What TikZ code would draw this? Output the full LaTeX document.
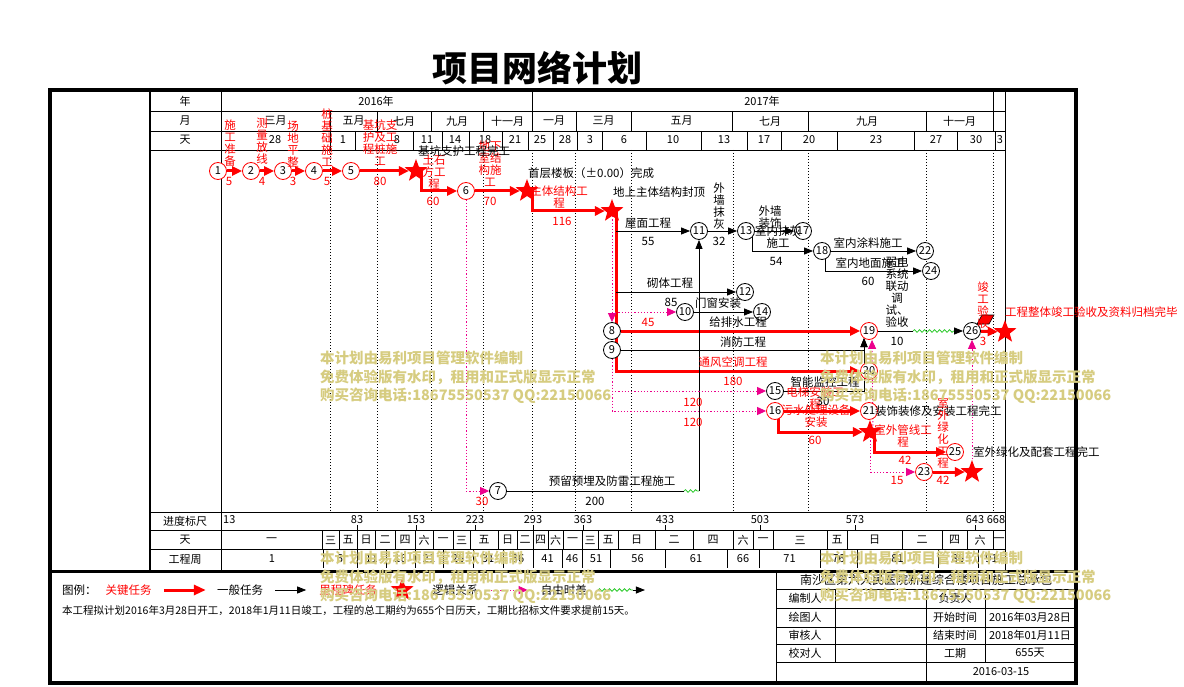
\documentclass[tikz,border=0pt]{standalone}
\usepackage{fontspec}
\setmainfont{Noto Sans CJK SC}
\usepackage{xcolor}
\usepackage{tikz}
\usetikzlibrary{positioning,calc,shapes.geometric,arrows.meta,decorations.pathmorphing,backgrounds}

\definecolor{wmcolor}{RGB}{214,204,128}
\definecolor{slackgreen}{RGB}{40,200,40}
\newcommand{\sz}[1]{\fontsize{#1}{#1}\selectfont}

\tikzset{
  evt/.style={circle, draw=black, fill=white, line width=0.8pt, minimum size=17pt, inner sep=0pt, font=\sz{11}},
  cevt/.style={evt, draw=red},
  mile/.style={star, star points=5, star point ratio=2.4, fill=red, minimum size=24pt, inner sep=0pt},
  keytask/.style={draw=red, line width=3pt, -{Triangle[length=10pt,width=9pt]}},
  task/.style={draw=black, line width=0.8pt, -{Triangle[length=9pt,width=7pt]}},
  logic/.style={draw=magenta, line width=0.9pt, dash pattern=on 1.2pt off 2pt, -{Triangle[length=9pt,width=8pt]}},
  slack/.style={draw=slackgreen, line width=0.8pt, decorate, decoration={snake, amplitude=1.3pt, segment length=5pt}},
  lbl/.style={inner sep=0pt, font=\sz{11.5}},
  rlbl/.style={lbl, text=red},
  vlbl/.style={inner sep=0pt, anchor=north, align=center, font=\fontsize{11.5}{12}\selectfont},
  rvlbl/.style={vlbl, text=red},
  cell/.style={inner sep=0pt, font=\sz{11}},
  gline/.style={line width=0.8pt},
  dotline/.style={line width=0.8pt, dash pattern=on 1pt off 2pt},
  wmark/.style={inner sep=0pt, anchor=north west, align=left, text=wmcolor, font=\fontsize{14.5}{18.5}\selectfont\bfseries},
}

\begin{document}
\begin{tikzpicture}[x=1pt,y=-1pt]
\useasboundingbox (0,0) rectangle (1184,687);

\node(title) [font=\sz{35}\bfseries] at (537,68) {项目网络计划};

% grid and frame
\begin{scope}[on background layer]
\draw[line width=3.5pt] (50,90) rectangle (1076,683);
\draw[line width=3pt] (50,571) -- (1076,571);
\draw[line width=2.5pt] (150,90) -- (150,571);
\foreach \y in {111,131,150,512,530,549}
  \draw[gline] (150,\y) -- (1005,\y);
\draw[gline] (221,90) -- (221,571);
\draw[gline] (1005,90) -- (1005,571);
\foreach \x in {532,993}
  \draw[gline] (\x,90) -- (\x,111);
\foreach \x in {330,377,431,483,532,576,631,732,808,926,993}
  \draw[gline] (\x,111) -- (\x,131);
\foreach \x in {330,355,413,442,469,502,528,553,577,602,646,701,747,781,837,914,957,995}
  \draw[gline] (\x,131) -- (\x,150);
\foreach \x in {330,377,431,483,532,575,631,733,808,926,993}
  \draw[dotline] (\x,150) -- (\x,512);
% title block
\draw[gline] (776,571) -- (776,683);
\foreach \y in {589,608,627,644,662}
  \draw[gline] (776,\y) -- (1076,\y);
\draw[gline] (926,589) -- (926,683);
\foreach \x in {835,985}
  \draw[gline] (\x,589) -- (\x,662);
\end{scope}

% header cells
\node(hy) [cell] at (185,101) {年};
\node(hm) [cell] at (185,121) {月};
\node(hd) [cell] at (185,140) {天};
\node(y16) [cell] at (376,101) {2016年};
\node(y17) [cell] at (762,101) {2017年};
\foreach \a/\b/\t [count=\i] in {221/330/三月,330/377/五月,377/431/七月,431/483/九月,483/532/十一月,532/576/一月,576/631/三月,631/732/五月,732/808/七月,808/926/九月,926/993/十一月}
  \node(mon\i) [cell] at ({(\a+\b)/2},121) {\t};
\foreach \x/\t [count=\i] in {275/28,343/1,397/8,427/11,455/14,485/18,515/21,540/25,565/28,590/3,624/6,673/10,724/13,764/17,809/20,876/23,936/27,976/30,1000/3}
  \node(day\i) [cell] at (\x,140) {\t};

% bottom rows
\node(hs) [cell] at (185,521) {进度标尺};
\node(hw) [cell] at (185,540) {天};
\node(hp) [cell] at (185,559) {工程周};
\node(sc0) [cell, anchor=west] at (223,520) {13};
\foreach \x/\t [count=\i] in {357/83,416/153,475/223,533/293,583/363,665/433,760/503,855/573,975/643} {
  \node(sc\i) [cell] at (\x,520) {\t};
  \draw[gline] (\x,525) -- (\x,530);
}
\node(sc10) [cell] at (996,520) {668};
\foreach \a/\b/\t [count=\i] in {221/322/一,322/339/三,339/357/五,357/375/日,375/395/二,395/415/四,415/433/六,433/453/一,453/470/三,470/498/五,498/517/日,517/533/二,533/548/四,548/563/六,563/582/一,582/598/三,598/618/五,618/655/日,655/693/二,693/733/四,733/753/六,753/773/一,773/827/三,827/847/五,847/902/日,902/942/二,942/967/四,967/993/六,993/1005/一} {
  \draw[gline] (\b,530) -- (\b,549);
  \node(wd\i) [cell] at ({(\a+\b)/2},540) {\t};
}
\foreach \a/\b/\t [count=\i] in {221/323/1,323/357/6,357/386/11,386/415/16,415/443/21,443/473/26,473/503/31,503/533/36,533/562/41,562/582/46,582/610/51,610/665/56,665/727/61,727/759/66,759/820/71,820/857/76,857/938/81,938/978/86,978/1005/91} {
  \draw[gline] (\b,549) -- (\b,568);
  \node(pw\i) [cell] at ({(\a+\b)/2},559) {\t};
}

% events and milestones
\node(n1)  [cevt] at (218,171) {1};
\node(n2)  [cevt] at (251,171) {2};
\node(n3)  [cevt] at (283,171) {3};
\node(n4)  [cevt] at (314,171) {4};
\node(n5)  [cevt] at (351,171) {5};
\node(m1)  [mile] at (416,171) {};
\node(n6)  [cevt] at (466,191) {6};
\node(m2)  [mile] at (527,191) {};
\node(m3)  [mile] at (612,211) {};
\node(n7)  [evt]  at (498,491) {7};
\node(n8)  [evt]  at (612,331) {8};
\node(n9)  [evt]  at (612,350) {9};
\node(n10) [evt]  at (685,312) {10};
\node(n11) [evt]  at (699,231) {11};
\node(n12) [evt]  at (745,292) {12};
\node(n13) [evt]  at (746,231) {13};
\node(n14) [evt]  at (762,312) {14};
\node(n15) [evt]  at (775,391) {15};
\node(n16) [cevt] at (775,411) {16};
\node(n17) [evt]  at (803,231) {17};
\node(n18) [evt]  at (822,251) {18};
\node(n19) [cevt] at (869,331) {19};
\node(n20) [cevt] at (869,371) {20};
\node(n21) [cevt] at (869,411) {21};
\node(n22) [evt]  at (925,251) {22};
\node(n23) [cevt] at (924,472) {23};
\node(n24) [evt]  at (931,271) {24};
\node(n25) [cevt] at (955,452) {25};
\node(n26) [evt]  at (972,331) {26};
\node(m4)  [mile] at (870,432) {};
\node(m5)  [mile] at (972,472) {};
\node(m6)  [mile] at (1005,332) {};

\coordinate(s1)  at (616,231);
\coordinate(s2)  at (616,292);
\coordinate(d1)  at (612,312);
\coordinate(j19) at (864,338);
\coordinate(fl1) at (913,331);
\coordinate(fl2) at (955,331);
\coordinate(fl3) at (684,491);
\coordinate(fl4) at (699,491);

\begin{scope}[on background layer]
% critical path
\foreach \x [evaluate=\x as \y using int(\x+1)] in {1,2,3,4}
  \draw[keytask] (n\x) -- (n\y);
\draw[keytask] (n5) -- (m1);
\draw[keytask] ($(m1)+(5,0)$) |- (n6);
\draw[keytask] (n6) -- (m2);
\draw[keytask] ($(m2)+(5,0)$) |- (m3);
\draw[keytask] ($(m3)+(4,0)$) |- (n20);
\draw[keytask] (n8) -- (n19);
\draw[keytask] (n16) -- (n21);
\draw[keytask] ($(n16)+(3,0)$) |- (m4);
\draw[keytask] ($(m4)+(4,0)$) |- (n25);
\draw[keytask] (n23) -- (m5);
\draw[keytask] (n26) -- (m6);
% ordinary tasks
\draw[task] (s1) -- (n11);
\draw[task] (n11) -- (n13);
\draw[task] (n13) -- (n17);
\draw[task] ($(n13)+(6,0)$) |- (n18);
\draw[task] (n18) -- (n22);
\draw[task] ($(n18)+(3,0)$) |- (n24);
\draw[task] (s2) -- (n12);
\draw[task] (n10) -- (n14);
\draw[task] (n9) -| (j19);
\draw[task] (n15) -| (j19);
\draw[gline] (n19) -- (fl1);
\draw[slack] (fl1) -- (fl2);
\draw[task] (fl2) -- (n26);
\draw[gline] (n7) -- (fl3);
\draw[slack] (fl3) -- (fl4);
\draw[task] (fl4) -- (n11);
% logic links
\draw[logic] (n6) |- (n7);
\draw[logic] (m3) -- (n8);
\draw[logic] (d1) -- (n10);
\draw[logic] (n9) |- (n15);
\draw[logic] (n9) |- (n16);
\draw[logic] ($(m4)+(3,0)$) -- ($(n19.south)+(3,0)$);
\draw[logic] (m4) |- (n23);
\draw[logic] (m5) -- (n26);
\end{scope}
\filldraw[fill=red, draw=black, line width=0.6pt] (977,324) -- (982,315) -- (994,315) -- (989,324) -- cycle;

% task labels
\node(t12) [rvlbl] at (230,120) {施\\工\\准\\备};
\node(t23) [rvlbl] at (262,118) {测\\量\\放\\线};
\node(t34) [rvlbl] at (293,121) {场\\地\\平\\整};
\node(t45) [rvlbl] at (327,109) {桩\\基\\础\\施\\工};
\node(t5m) [rvlbl] at (380,120) {基坑支\\护及工\\程桩施\\工};
\node(tm6) [rvlbl] at (434,155) {土石\\方工\\程};
\node(t6m) [rvlbl] at (490,141) {地下\\室结\\构施\\工};
\node(tmm) [rvlbl] at (559,186) {主体结构工\\程};
\foreach \x/\y/\t [count=\i] in {229/181/5,262/181/4,293/181/3,327/181/5,380/181/80,433/201/60,490/201/70,562/221/116,648/322/45,733/381/180,693/402/120,693/422/120,815/440/60,905/460/42,897/480/15,943/480/42,983/341/3,482/501/30}
  \node(rd\i) [rlbl] at (\x,\y) {\t};
\node(ms1) [lbl, anchor=west] at (418,151) {基坑支护工程完工};
\node(ms2) [lbl, anchor=west] at (528,173) {首层楼板（±0.00）完成};
\node(ms3) [lbl, anchor=west] at (613,192) {地上主体结构封顶};
\node(ms4) [lbl, anchor=west] at (875,411) {装饰装修及安装工程完工};
\node(ms5) [lbl, anchor=west] at (973,452) {室外绿化及配套工程完工};
\node(ms6) [rlbl, anchor=west] at (1005,312) {工程整体竣工验收及资料归档完毕};
\node(t1113) [vlbl] at (719,183) {外\\墙\\抹\\灰};
\node(t1317) [vlbl] at (770,206) {外墙\\装饰};
\node(t1318) [vlbl] at (778,226) {室内抹灰\\施工};
\node(t1926) [vlbl] at (897,257) {弱电\\系统\\联动\\调\\试、\\验收};
\node(t1621) [rvlbl] at (815,387) {电梯安装工\\程};
\node(t16m) [rvlbl] at (816,405) {污水处理设备\\安装};
\node(tm25) [rvlbl] at (903,425) {室外管线工\\程};
\node(t23m) [rvlbl] at (943,398) {室\\外\\绿\\化\\工\\程};
\node(t26m) [rvlbl] at (983,282) {竣\\工\\验\\收};
\node(t711) [rlbl] at (733,362) {通风空调工程};
\foreach \x/\y/\t [count=\i] in {648/223/屋面工程,648/241/55,719/241/32,776/261/54,868/243/室内涂料施工,870/263/室内地面施工,868/281/60,897/341/10,670/283/砌体工程,671/302/85,718/303/门窗安装,738/322/给排水工程,743/342/消防工程,825/382/智能监控工程,823/401/30,612/481/预留预埋及防雷工程施工,595/501/200}
  \node(bd\i) [lbl] at (\x,\y) {\t};

% legend
\node(lg0) [lbl, anchor=west] at (62,590) {图例：};
\node(lg1) [rlbl, right=8.5pt of lg0] {关键任务};
\node(la1) [coordinate, right=12pt of lg1] {};
\node(la2) [coordinate, right=42pt of la1] {};
\draw[keytask, -{Triangle[length=12pt,width=10pt]}] (la1) -- (la2);
\node(lg2) [lbl, right=11pt of la2] {一般任务};
\node(lb1) [coordinate, right=12pt of lg2] {};
\node(lb2) [coordinate, right=31pt of lb1] {};
\draw[task] (lb1) -- (lb2);
\node(lg3) [rlbl, right=13pt of lb2] {里程碑任务};
\node(lgs) [mile, right=18pt of lg3] {};
\node(lg4) [lbl, right=23pt of lgs] {逻辑关系};
\node(lc1) [coordinate, right=9pt of lg4] {};
\node(lc2) [coordinate, right=40pt of lc1] {};
\draw[logic] (lc1) -- (lc2);
\node(lg5) [lbl, right=13pt of lc2] {自由时差};
\node(ld1) [coordinate, right=11pt of lg5] {};
\node(ld2) [coordinate, right=35pt of ld1] {};
\node(ld3) [coordinate, right=12pt of ld2] {};
\draw[slack] (ld1) -- (ld2);
\draw[task] (ld2) -- (ld3);
\node(note) [anchor=west, inner sep=0pt, font=\sz{10.5}] at (62,611) {本工程拟计划2016年3月28日开工，2018年1月11日竣工，工程的总工期约为655个日历天，工期比招标文件要求提前15天。};

% title block
\node(tb0) [cell, font=\sz{12}] at (926,580) {南沙区第六人民医院新建综合楼项目施工总承包};
\foreach \y/\a/\b/\c [count=\i] in {598/编制人/负责人/,617/绘图人/开始时间/2016年03月28日,635/审核人/结束时间/2018年01月11日,653/校对人/工期/655天} {
  \node(tba\i) [cell] at (805,\y) {\a};
  \node(tbb\i) [cell] at (955,\y) {\b};
  \node(tbc\i) [cell] at (1030,\y) {\c};
}
\node(tbd) [cell] at (1001,672) {2016-03-15};

% watermark
\foreach \x/\y [count=\i] in {320/351,820/351,320/551,820/551}
  \node(wm\i) [wmark] at (\x,\y) {本计划由易利项目管理软件编制\\免费体验版有水印，租用和正式版显示正常\\购买咨询电话:18675550537 QQ:22150066};
\end{tikzpicture}
\end{document}
